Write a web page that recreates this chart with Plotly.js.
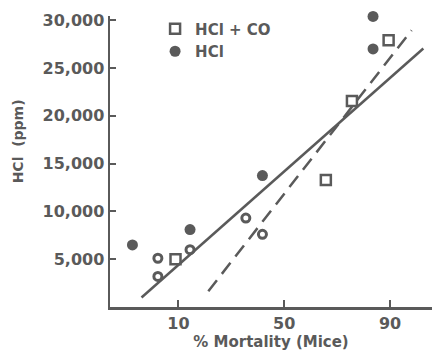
<!DOCTYPE html>
<html>
<head>
<meta charset="utf-8">
<script src="https://cdn.plot.ly/plotly-3.0.1.min.js"></script>
<style>
html,body{margin:0;padding:0;background:#fff;}
#chart{width:433px;height:351px;}
</style>
</head>
<body>
<div id="chart"></div>
<script>
// ---- data (mortality in %, HCl in ppm) ----
var coMortality = [9.4, 69.3, 79.4, 89.7];
var coHCl       = [5000, 13300, 21550, 27900];

var hclMortality = [3.3, 12.7, 39.6, 85.9, 85.9];
var hclHCl       = [6500, 8100, 13750, 30400, 27000];

// faintly printed (ring-shaped) points
var ringMortality = [6.3, 6.3, 12.7, 32.1, 39.6];
var ringHCl       = [5100, 3200, 6000, 9300, 7600];

// fitted lines (end points)
var solidMortality = [4.2, 95.4];
var solidHCl       = [1000, 27050];
var dashMortality  = [17.9, 93.85];
var dashHCl        = [1650, 28950];

var xTickPercent = [10, 50, 90];
var xTickText    = ['10', '50', '90'];
var yTickVals    = [5000, 10000, 15000, 20000, 25000, 30000];

// probit (inverse standard normal CDF) scale transform
function probit(pct) {
  var p = pct / 100;
  var a = [-3.969683028665376e+01, 2.209460984245205e+02, -2.759285104469687e+02, 1.383577518672690e+02, -3.066479806614716e+01, 2.506628277459239e+00];
  var b = [-5.447609879822406e+01, 1.615858368580409e+02, -1.556989798598866e+02, 6.680131188771972e+01, -1.328068155288572e+01];
  var c = [-7.784894002430293e-03, -3.223964580411365e-01, -2.400758277161838e+00, -2.549732539343734e+00, 4.374664141464968e+00, 2.938163982698783e+00];
  var d = [7.784695709041462e-03, 3.224671290700398e-01, 2.445134137142996e+00, 3.754408661907416e+00];
  var pl = 0.02425, q, r;
  if (p < pl) {
    q = Math.sqrt(-2 * Math.log(p));
    return (((((c[0]*q+c[1])*q+c[2])*q+c[3])*q+c[4])*q+c[5]) / ((((d[0]*q+d[1])*q+d[2])*q+d[3])*q+1);
  } else if (p <= 1 - pl) {
    q = p - 0.5; r = q*q;
    return (((((a[0]*r+a[1])*r+a[2])*r+a[3])*r+a[4])*r+a[5])*q / (((((b[0]*r+b[1])*r+b[2])*r+b[3])*r+b[4])*r+1);
  } else {
    q = Math.sqrt(-2 * Math.log(1 - p));
    return -(((((c[0]*q+c[1])*q+c[2])*q+c[3])*q+c[4])*q+c[5]) / ((((d[0]*q+d[1])*q+d[2])*q+d[3])*q+1);
  }
}
function P(arr) { return arr.map(probit); }

var ink = '#5a5a5a';
var font = 'DejaVu Sans, Verdana, sans-serif';

var traces = [
  {x: P(solidMortality), y: solidHCl, mode: 'lines', showlegend: false, hoverinfo: 'skip',
   line: {color: ink, width: 2.5}},
  {x: P(dashMortality), y: dashHCl, mode: 'lines', showlegend: false, hoverinfo: 'skip',
   line: {color: ink, width: 2.5, dash: '14px,8px'}},
  {x: P(ringMortality), y: ringHCl, mode: 'markers', showlegend: false, cliponaxis: false,
   marker: {symbol: 'circle-open', size: 8, color: ink, line: {color: ink, width: 3}}},
  {x: P(coMortality), y: coHCl, mode: 'markers', name: 'HCl + CO', cliponaxis: false,
   marker: {symbol: 'square-open', size: 10, color: ink, line: {color: ink, width: 2.5}}},
  {x: P(hclMortality), y: hclHCl, mode: 'markers', name: 'HCl', cliponaxis: false,
   marker: {symbol: 'circle', size: 11, color: ink}}
];

var layout = {
  width: 433, height: 351,
  margin: {l: 110, r: 1, t: 16, b: 44},
  paper_bgcolor: '#ffffff', plot_bgcolor: '#ffffff',
  font: {family: font, color: ink, size: 15, weight: 'bold'},
  showlegend: true,
  legend: {x: 0.14, y: 1.012, xanchor: 'left', yanchor: 'top', bgcolor: 'rgba(0,0,0,0)',
           font: {family: font, size: 15, color: ink, weight: 'bold'},
           tracegroupgap: 0, itemwidth: 30},
  xaxis: {
    range: [-2.11, 1.79], showgrid: false, zeroline: false,
    showline: true, linecolor: ink, linewidth: 2.5,
    tickmode: 'array', tickvals: P(xTickPercent), ticktext: xTickText,
    ticks: 'inside', ticklen: 7, tickwidth: 2, tickcolor: ink,
    tickfont: {family: font, size: 16, color: ink, weight: 'bold'},
    title: {text: '% Mortality (Mice)', font: {family: font, size: 15, color: ink, weight: 'bold'}, standoff: 1}
  },
  yaxis: {
    range: [0, 30450], showgrid: false, zeroline: false,
    showline: true, linecolor: ink, linewidth: 2.5,
    tickmode: 'array', tickvals: yTickVals, tickformat: ',d',
    ticks: 'inside', ticklen: 6, tickwidth: 2, tickcolor: ink,
    tickfont: {family: font, size: 16, color: ink, weight: 'bold'}
  },
  annotations: [{
    text: 'HCl  (ppm)', xref: 'paper', yref: 'paper', x: -0.285, y: 0.57,
    xanchor: 'center', yanchor: 'middle', textangle: -90, showarrow: false,
    font: {family: font, size: 14, color: ink, weight: 'bold'}
  }]
};

Plotly.newPlot('chart', traces, layout, {displayModeBar: false, staticPlot: true});
</script>
</body>
</html>
